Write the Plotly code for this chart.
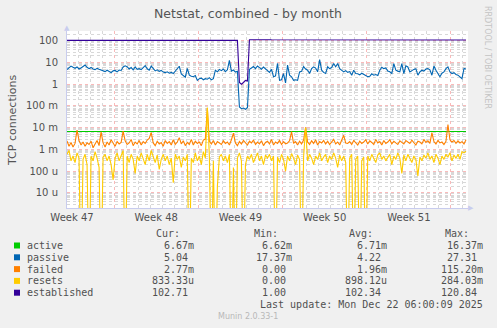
import plotly.graph_objects as go
import pandas as pd
import numpy as np

# ---------------- data (4h spacing) ----------------
start_time = "2025-11-20 02:00"
n_points = 200
step = "4h"

active_m = [
6.7,6.7,6.7,6.7,6.8,6.7,6.7,6.7,6.7,6.7, 6.9,6.7,6.7,6.7,6.7,6.7,6.8,6.7,6.7,6.7,
6.7,6.7,6.9,6.7,6.7,6.7,6.7,6.7,6.8,6.7, 6.7,6.7,6.7,6.9,6.7,6.7,6.7,6.7,6.7,6.8,
6.7,6.7,6.7,6.7,6.9,6.7,6.7,6.7,6.7,6.7, 6.8,6.7,6.7,6.7,6.7,6.9,6.7,6.7,6.7,6.7,
6.7,6.8,6.7,6.7,6.7,6.7,6.9,6.7,6.7,6.7, 6.7,6.7,6.8,6.7,6.7,6.7,6.7,6.9,6.7,6.7,
6.7,6.7,6.7,6.8,6.7,6.7,6.7,6.7,6.9,6.7, 6.7,6.7,6.7,6.7,6.8,6.7,6.7,6.7,6.7,6.9,
6.7,6.7,6.7,6.7,6.7,6.8,6.7,6.7,6.7,6.7, 6.9,6.7,6.7,6.7,6.7,6.7,6.8,6.7,6.7,6.7,
6.7,6.9,6.7,6.7,6.7,6.7,6.7,6.8,6.7,6.7, 6.7,6.7,6.9,6.7,6.7,6.7,6.7,6.7,6.8,6.7,
6.7,6.7,6.7,6.9,6.7,6.7,6.7,6.7,6.7,6.8, 6.7,6.7,6.7,6.7,6.9,6.7,6.7,6.7,6.7,6.7,
6.8,6.7,6.7,6.7,6.7,6.9,6.7,6.7,6.7,6.7, 6.7,6.8,6.7,6.7,6.7,6.7,6.9,6.7,6.7,6.7,
6.7,6.7,6.8,6.7,6.7,6.7,6.7,6.9,6.7,6.7, 6.7,6.7,6.7,6.8,6.7,6.7,6.7,6.7,6.9,6.67,
]

passive = [
4.7,5.8,6.8,6.0,5.4,6.2,5.0,5.6,6.4,7.6, 6.0,5.2,5.9,5.0,4.7,5.4,4.9,4.5,4.0,3.8,
4.4,3.9,3.4,4.1,4.3,3.7,4.5,4.3,6.2,7.0, 6.4,5.0,5.8,4.6,6.3,4.8,5.2,4.7,5.6,7.2,
5.1,4.4,6.8,5.0,4.1,4.6,3.9,4.3,3.6,3.4, 3.7,3.2,3.5,3.1,4.0,5.0,6.7,3.0,2.4,2.1,
5.4,2.6,2.3,2.2,2.5,1.5,1.8,1.9,1.6,1.8, 1.7,2.0,1.6,1.8,4.4,3.7,4.8,4.2,5.0,3.8,
4.6,12.5,4.0,4.5,3.6,3.9,0.09,0.075,0.08,0.07, 0.085,4.8,5.6,6.5,5.2,6.9,5.8,4.9,6.2,5.0,
4.2,3.5,4.8,2.2,2.4,9.0,1.5,1.6,3.1,1.15, 7.5,2.6,2.2,1.5,1.6,1.5,3.7,3.9,6.5,5.0,
4.4,3.1,5.2,6.3,5.5,3.7,13.6,4.4,3.5,3.1, 6.3,5.2,5.8,8.9,6.3,8.9,5.2,4.4,3.7,4.2,
3.5,3.8,2.6,4.4,3.1,3.0,2.7,3.2,2.8,2.6, 2.2,2.3,3.0,2.6,2.8,2.5,4.4,6.0,5.2,5.6,
4.0,3.7,3.1,8.9,4.4,4.0,3.7,8.9,3.1,7.0, 6.2,3.7,4.4,4.8,5.2,2.6,3.7,4.4,4.0,5.0,
5.2,4.6,2.6,6.8,4.4,3.0,2.2,3.2,3.7,5.2, 6.3,3.7,3.1,3.4,2.8,2.6,2.2,1.8,5.3,5.04,
]

failed_m = [
2.5,1.4,2.1,1.3,1.9,7.8,2.6,1.6,2.2,1.4, 2.0,1.7,2.4,1.2,1.8,2.6,1.5,6.5,2.0,1.3,
2.2,1.6,2.8,1.9,1.4,2.3,1.8,2.1,7.0,2.5, 1.7,2.0,2.9,1.5,2.2,1.8,2.6,1.6,2.3,1.9,
2.7,3.2,6.0,2.0,1.5,2.4,1.8,2.1,1.4,2.6, 1.9,2.3,1.6,2.8,1.7,2.2,3.5,1.8,2.5,1.5,
2.1,1.7,2.9,1.6,2.4,1.9,2.2,1.5,2.7,3.0, 80.0,2.4,1.8,2.6,1.6,2.3,2.0,1.7,2.5,1.9,
2.2,1.6,2.8,5.6,2.0,1.5,2.3,1.8,2.6,1.9, 1.6,2.4,2.0,2.7,1.7,2.2,1.8,2.5,1.5,2.1,
2.4,1.8,2.9,1.6,2.2,1.9,2.6,1.7,2.3,1.8, 2.0,2.5,6.6,1.9,2.3,1.6,2.4,1.8,2.7,10.5,
2.2,1.7,2.5,1.9,2.8,1.6,2.3,2.0,2.6,1.8, 2.4,1.7,2.1,2.9,1.8,2.2,1.6,2.7,4.5,2.0,
1.9,2.3,1.7,2.6,2.0,1.6,2.4,1.9,2.2,2.8, 1.8,2.5,2.1,1.7,2.9,2.0,2.3,1.6,2.6,1.9,
2.2,2.8,1.8,2.4,2.0,1.7,2.5,2.1,1.8,2.6, 2.3,1.9,2.7,2.0,1.6,2.4,2.2,1.8,2.9,2.1,
2.5,1.9,6.0,2.3,1.8,2.6,2.0,2.2,1.7,2.4, 14.0,2.8,2.2,2.6,1.9,2.5,2.0,2.3,1.8,2.77,
]

resets_m = [
0.6,0.9,0.3,0.5,0.25,0.7,0.4,0,0.35,0.6, 0.2,0,0.5,0.3,0.8,0.4,0.15,0,0.45,0.6,
0.3,0.5,0.2,0.04,0.4,0.7,0.3,0.55,0.9,0, 0.5,0.25,0.6,0.35,0.08,0.5,0.3,0.7,0.4,0.2,
0.6,0.3,0.9,0.45,0.25,0.55,0.12,0.35,0.6,0.3, 0.5,0.2,0.4,0.03,0.6,0.35,0.5,0.15,0.45,0.3,
0.6,0,0.4,0.25,0.7,0.3,0.5,0.2,0.8,0.4, 85.0,0.5,0,0.3,0,0.02,0.45,0.6,0.3,0.5,
0.25,0.6,0,0.15,0,0.4,0.7,0.3,0,0.2, 0.5,0.35,0.6,0.25,0.45,0.7,0.3,0.5,0.2,0.55,
0.4,0.6,0.3,0.5,0,0.45,0.25,0.6,0.35,0.1, 0.5,0.3,0.65,0.4,0.2,0.55,0.35,0,0.45,10.0,
0.3,0.6,0.4,0.2,0.5,0.35,0.7,0.3,0.45,0.6, 0.25,0.5,0.35,0.7,0.4,0.15,0.55,0.3,0.5,0.25,
0,0.4,0.6,0,0.35,0.5,0,0.3,0.45,0, 0.5,0.3,0.6,0.4,0.25,0.55,0.7,0.35,0.5,0.3,
0.45,0.6,0.2,0.5,0.35,0.7,0.4,0.08,0.55,0.3, 0.6,0.4,0.25,0.5,0.35,0.06,0.45,0.3,0.55,0.4,
0.7,0.35,0.5,0.25,0.6,0.4,0.2,0.5,0.35,0.6, 0.45,0.7,0.3,0.55,0.4,0.6,0.35,0.8,0.7,0.833,
]

established = [
103,103,102,103,103,104,103,103,102,103, 103,103,104,103,103,102,103,103,103,104,
103,103,102,103,103,103,104,103,103,102, 103,103,103,104,103,103,102,103,103,103,
104,103,103,102,103,103,103,104,103,103, 102,103,103,103,104,103,103,102,103,103,
103,104,103,103,102,103,103,103,104,103, 103,102,103,103,103,104,103,103,102,103,
103,103,104,103,103,103,1.2,1.0,1.2,1.5, 1.4,110,110,111,110,110,110,111,110,110,
110,111,110,110,110,110,111,110,110,110, 111,110,110,110,110,111,110,110,110,111,
110,110,110,111,110,110,110,110,111,110, 110,110,111,110,110,110,110,111,110,110,
110,111,110,110,110,110,111,110,110,110, 104,110,108,104,110,110,105,110,109,104,
110,110,104,109,110,105,110,110,104,110, 108,110,105,110,110,104,110,109,110,105,
110,104,110,110,108,104,110,110,105,110, 110,104,110,109,110,105,110,110,104,108,
]

series_names = ["active", "passive", "failed", "resets", "established"]
series_colors = ["#00CC00", "#0066B3", "#FF8000", "#FFCC00", "#330099"]

y_tick_vals = [1e-5, 1e-4, 1e-3, 1e-2, 1e-1, 1, 10, 100]
y_tick_text = ["10 u", "100 u", "1 m", "10 m", "100 m", "1", "10", "100"]

stats_header = ["Cur:", "Min:", "Avg:", "Max:"]
stats_rows = [
    ["6.67m", "6.62m", "6.71m", "16.37m"],
    ["5.04\u00a0", "17.37m", "4.22\u00a0", "27.31\u00a0"],
    ["2.77m", "0.00\u00a0", "1.96m", "115.20m"],
    ["833.33u", "0.00\u00a0", "898.12u", "284.03m"],
    ["102.71\u00a0", "1.00\u00a0", "102.34\u00a0", "120.84\u00a0"],
]
last_update = "Last update: Mon Dec 22 06:00:09 2025"
title_text = "Netstat, combined - by month"
y_title = "TCP connections"
side_text = "RRDTOOL / TOBI OETIKER"
footer = "Munin 2.0.33-1"

# ---------------- build ----------------
times = pd.date_range(start_time, periods=n_points, freq=step)
FLOOR = 1e-9  # zero values drawn to the bottom edge (as rrdtool does)

values = [
    np.array(active_m) * 1e-3,
    np.array(passive),
    np.array(failed_m) * 1e-3,
    np.array(resets_m) * 1e-3,
    np.array(established, dtype=float),
]

fig = go.Figure()
for name, col, v in zip(series_names, series_colors, values):
    v = np.where(v > 0, v, FLOOR)
    fig.add_trace(go.Scatter(x=times, y=v, mode="lines", name=name,
                             line=dict(color=col, width=1.1), showlegend=False))

W, H = 497, 328
L, R, T, B = 67, 468, 31, 208

def px(x):
    return (x - L) / (R - L)

def py(y):
    return (B - y) / (B - T)

minor_vals = [m * 10.0 ** e for e in range(-7, 3) for m in range(2, 10)]

mono = "DejaVu Sans Mono"
sans = "DejaVu Sans"
txt = "#505050"
major_grid = "rgba(245,140,140,0.6)"
minor_grid = "rgba(190,190,190,0.6)"

fig.update_layout(
    width=W, height=H,
    margin=dict(l=L, r=W - R, t=T, b=H - B),
    paper_bgcolor="#F0F0F0", plot_bgcolor="#FFFFFF",
    xaxis=dict(
        type="date",
        range=["2025-11-20 02:00", "2025-12-23 10:00"],
        tick0="2025-11-17", dtick=7 * 86400000,
        ticklabelmode="period", tickformat="Week %V",
        showgrid=True, gridcolor=major_grid, griddash="dot", gridwidth=1,
        minor=dict(tick0="2025-11-17", dtick=86400000, showgrid=True,
                   gridcolor=minor_grid, griddash="dot", gridwidth=1),
        showline=True, linecolor="#C8CCEE", linewidth=1,
        ticks="", zeroline=False,
        tickfont=dict(family=sans, size=10, color=txt),
    ),
    yaxis=dict(
        type="log",
        range=[-5.69, 2.446],
        tickmode="array", tickvals=y_tick_vals, ticktext=y_tick_text,
        showgrid=True, gridcolor=major_grid, griddash="dot", gridwidth=1,
        minor=dict(tickmode="array", tickvals=minor_vals, showgrid=True,
                   gridcolor=minor_grid, griddash="dot", gridwidth=1),
        showline=True, linecolor="#C8CCEE", linewidth=1,
        ticks="", zeroline=False, ticklabelstandoff=6,
        tickfont=dict(family=sans, size=10, color=txt),
    ),
)

ann = []
def add(text, x, y, xanchor="left", size=10, family=mono, color=txt, angle=0):
    ann.append(dict(text=text, x=px(x), y=py(y), xref="paper", yref="paper",
                    xanchor=xanchor, yanchor="middle", showarrow=False,
                    textangle=angle, borderpad=0,
                    font=dict(family=family, size=size, color=color)))

add(title_text, 248, 13, "center", size=12.5, family=sans, color="#555555")
add(y_title, 12, 121, "center", size=11, family=sans, color="#555555", angle=-90)
add(side_text, 488, 57, "center", size=8, family=sans, color="#C4C4C4", angle=90)
add("\u25B2", 67, 28.5, "center", size=7, family=sans, color="#C8CCEE")
add("\u25B6", 471, 208, "center", size=7, family=sans, color="#C8CCEE")

hdr_x = [181, 279, 374, 470]
col_x = [195, 293, 388, 484]
for h, x in zip(stats_header, hdr_x):
    add(h, x, 233.5, "right")
row_y = [245.5, 257.3, 269.1, 280.9, 292.7]
shapes = []
for name, col, row, yy in zip(series_names, series_colors, stats_rows, row_y):
    add(name, 26, yy, "left")
    for v, x in zip(row, col_x):
        add(v, x, yy, "right")
    shapes.append(dict(type="rect", xref="paper", yref="paper",
                       x0=px(14), x1=px(20), y0=py(yy - 3), y1=py(yy + 3),
                       fillcolor=col, line=dict(width=0)))
add(last_update, 484, 304.5, "right")
add(footer, 248, 316.5, "center", size=8, family=sans, color="#B8B8B8")

fig.update_layout(annotations=ann, shapes=shapes)
fig.write_html("out.html")
